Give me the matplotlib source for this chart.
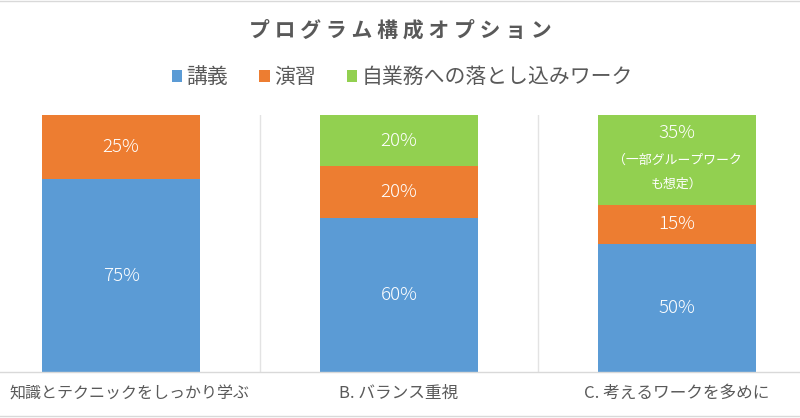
import matplotlib
matplotlib.use('Agg')
import matplotlib.pyplot as plt
import numpy as np

plt.rcParams['font.family'] = ['Noto Sans CJK JP', 'DejaVu Sans']

# Chart data
categories = ['知識とテクニックをしっかり学ぶ', 'B. バランス重視', 'C. 考えるワークを多めに']
series_names = ['講義', '演習', '自業務への落とし込みワーク']
lecture = [75, 60, 50]
practice = [25, 20, 15]
own_work = [0, 20, 35]
notes = ['', '', '（一部グループワーク\nも想定）']

colors = ['#5B9BD5', '#ED7D31', '#92D050']
gray = '#595959'

fig = plt.figure(figsize=(8, 4.18), dpi=100)
ax = fig.add_axes([-18 / 800, 46 / 418, 834 / 800, 257 / 418])

x = np.arange(len(categories))
width = 0.565
bottom = np.zeros(len(categories))
for name, vals, col in zip(series_names, [lecture, practice, own_work], colors):
    vals = np.array(vals, dtype=float)
    ax.bar(x, vals, width, bottom=bottom, color=col, label=name, zorder=2)
    for i, v in enumerate(vals):
        if v <= 0:
            continue
        if name == series_names[2] and notes[i]:
            top = bottom[i] + v
            ax.text(x[i], top - 7, f'{int(v)}%', ha='center', va='center',
                    color='white', fontsize=13.5, fontweight='light')
            ax.text(x[i], top - 22.2, notes[i], ha='center', va='center',
                    color='white', fontsize=9.3, linespacing=2.1)
        else:
            ax.text(x[i], bottom[i] + v / 2, f'{int(v)}%', ha='center', va='center',
                    color='white', fontsize=13.5, fontweight='light')
    bottom += vals

ax.set_xlim(-0.5, 2.5)
ax.set_ylim(0, 100)
ax.set_yticks([])
ax.set_xticks([])
for s in ['top', 'left', 'right']:
    ax.spines[s].set_visible(False)
ax.spines['bottom'].set_color('#D9D9D9')
ax.spines['bottom'].set_linewidth(1)
for xs in [0.5, 1.5]:
    ax.axvline(xs, color='#E3E3E3', linewidth=1, zorder=1)

# category labels
ax.text(x[0] + 0.03, -8.5, categories[0], ha='center', va='center',
        color=gray, fontsize=11.5, clip_on=False)
for i in range(1, len(categories)):
    ax.text(x[i], -8.5, categories[i], ha='center', va='center',
            color=gray, fontsize=12, clip_on=False)

# title and legend
fig.text(0.5, 1 - 30 / 418, 'プ ロ グ ラ ム 構 成 オ プ シ ョ ン', ha='center', va='center',
         fontsize=15, fontweight='bold', color=gray)
handles, labels = ax.get_legend_handles_labels()
fig.legend(handles, labels, loc='center', bbox_to_anchor=(0.503, 1 - 77 / 418),
           ncol=3, frameon=False, fontsize=15, labelcolor=gray,
           handlelength=0.5, handleheight=0.5, handletextpad=0.2, columnspacing=1.5)

# chart frame lines
fig.add_artist(plt.Line2D([0, 1], [2 / 418, 2 / 418], color='#D9D9D9', linewidth=1))
fig.add_artist(plt.Line2D([0, 1], [1 - 1 / 418, 1 - 1 / 418], color='#D9D9D9', linewidth=1))

fig.savefig('out.png', dpi=100, facecolor='white')
